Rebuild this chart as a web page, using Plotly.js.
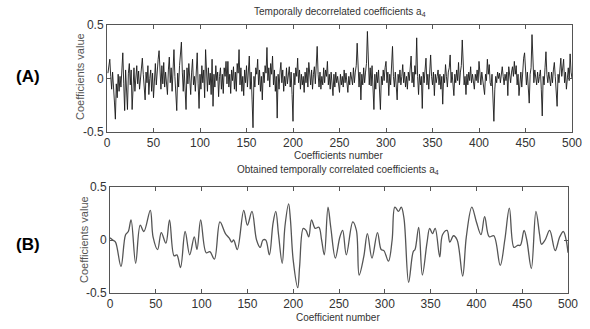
<!DOCTYPE html>
<html>
<head>
<meta charset="utf-8">
<script src="https://cdn.plot.ly/plotly-3.0.1.min.js"></script>
<style>
html,body{margin:0;padding:0;background:#fff;}
#chart{width:590px;height:329px;}
</style>
</head>
<body>
<div id="chart"></div>
<script>
// (A) Temporally decorrelated coefficients a4 (coefficient 1..500)
const decorrelated = [
 0.05, 0.12, 0.18, 0.02,-0.10, 0.06,-0.15,-0.22,-0.38,-0.05,-0.18, 0.04,-0.12, 0.02,-0.08, 0.10, 0.24,-0.05,-0.30, 0.08,-0.10,-0.29, 0.05, 0.14,-0.06,
 0.08,-0.29,-0.02, 0.10,-0.12, 0.03, 0.12,-0.05, 0.07,-0.10, 0.02, 0.10, 0.19, 0.04,-0.08,-0.20, 0.06,-0.04, 0.12,-0.15, 0.00, 0.08,-0.12, 0.05,-0.18,
 0.02, 0.14,-0.06, 0.10, 0.18, 0.26, 0.05,-0.10, 0.12,-0.05, 0.15,-0.08, 0.06,-0.02,-0.15, 0.08, 0.20,-0.04, 0.10,-0.12, 0.04, 0.27, 0.02,-0.10,-0.30,
 0.05,-0.08, 0.12, 0.20, 0.34, 0.06,-0.12, 0.08,-0.20,-0.29, 0.10,-0.05, 0.14,-0.02,-0.15, 0.06, 0.18,-0.06, 0.02,-0.12, 0.10, 0.24,-0.05,-0.28, 0.04,
-0.10, 0.12,-0.04, 0.08,-0.18, 0.27, 0.02,-0.12, 0.10,-0.06, 0.05,-0.15, 0.18,-0.26, 0.04,-0.08, 0.12,-0.02, 0.06,-0.17, 0.02, 0.10,-0.10, 0.04,-0.14,
 0.10, 0.02, 0.16,-0.05, 0.16,-0.08, 0.04,-0.14, 0.08,-0.02, 0.11,-0.10, 0.06,-0.12, 0.14, 0.05, 0.27,-0.06, 0.10,-0.12, 0.02,-0.16, 0.08,-0.04, 0.12,
-0.08, 0.04, 0.21,-0.10, 0.06,-0.20,-0.46, 0.02,-0.08, 0.10, 0.04, 0.18,-0.06, 0.08,-0.12, 0.02,-0.20, 0.06,-0.04, 0.12, 0.05, 0.29,-0.02, 0.10,-0.08,
 0.14, 0.04, 0.21,-0.06, 0.08,-0.12, 0.02,-0.37, 0.04,-0.10, 0.06, 0.15,-0.04, 0.08,-0.12, 0.02,-0.07, 0.10,-0.05, 0.04, 0.11,-0.08, 0.06,-0.15,-0.40,
 0.05,-0.06, 0.10, 0.02, 0.19,-0.04, 0.08,-0.10, 0.04,-0.06, 0.02,-0.13, 0.06,-0.04, 0.10,-0.08, 0.15, 0.02,-0.06, 0.08,-0.10, 0.04, 0.11,-0.05, 0.08,
 0.30, 0.04,-0.08, 0.06,-0.10, 0.02,-0.06, 0.10,-0.04, 0.08, 0.02, 0.16,-0.06, 0.04,-0.10, 0.06,-0.02,-0.16, 0.04,-0.08, 0.06,-0.04, 0.02,-0.10,-0.13,
 0.04,-0.06, 0.02,-0.08, 0.08,-0.04, 0.05,-0.10,-0.13, 0.02,-0.06, 0.06,-0.02,-0.06, 0.10,-0.04, 0.06, 0.12, 0.33, 0.02,-0.08, 0.06,-0.20, 0.04,-0.06,
 0.10,-0.04, 0.06, 0.14, 0.44, 0.05,-0.06, 0.10,-0.07, 0.12,-0.10,-0.29, 0.04,-0.10, 0.06,-0.04, 0.08,-0.12,-0.29, 0.02,-0.06, 0.08,-0.02, 0.10, 0.16,
-0.04, 0.06,-0.16, 0.04,-0.06, 0.12, 0.30, 0.02,-0.08, 0.06,-0.10,-0.20, 0.04,-0.04, 0.08,-0.06, 0.02, 0.13,-0.04, 0.06,-0.08, 0.02,-0.10, 0.06,-0.02,
 0.10, 0.21,-0.04, 0.06,-0.08, 0.12, 0.04, 0.38, 0.02,-0.15, 0.04,-0.06, 0.02,-0.28, 0.06,-0.04, 0.08, 0.19,-0.06, 0.04,-0.10, 0.08, 0.22, 0.02,-0.06,
 0.06,-0.16, 0.04,-0.04, 0.02, 0.08,-0.06, 0.04,-0.10, 0.02,-0.24, 0.04,-0.04, 0.13, 0.02,-0.08, 0.06, 0.10, 0.22,-0.04, 0.06,-0.08,-0.16, 0.04,-0.04,
 0.08,-0.02, 0.15,-0.06, 0.06, 0.12, 0.36, 0.04,-0.06, 0.02,-0.15, 0.04,-0.06, 0.06,-0.02, 0.11,-0.04, 0.04,-0.06,-0.10, 0.04,-0.02, 0.08,-0.04, 0.16,
 0.02,-0.06, 0.06,-0.04,-0.08,-0.15, 0.04,-0.02, 0.18, 0.04, 0.13,-0.04,-0.07, 0.04,-0.12,-0.40,-0.10, 0.02,-0.04, 0.06, 0.00, 0.05,-0.04, 0.06, 0.11,
 0.02,-0.06, 0.04,-0.02, 0.06,-0.16, 0.11, 0.02,-0.04, 0.06, 0.11, 0.02, 0.16, 0.04, 0.12,-0.06, 0.04,-0.16,-0.02, 0.06,-0.08, 0.10, 0.19, 0.24, 0.02,
-0.06, 0.06,-0.10,-0.23, 0.04, 0.10, 0.41, 0.06,-0.04, 0.08, 0.00,-0.06, 0.06,-0.04, 0.02, 0.08,-0.10,-0.35, 0.02,-0.06, 0.10, 0.25, 0.04,-0.04, 0.06,
-0.02,-0.07, 0.06,-0.04, 0.08, 0.15, 0.02,-0.08,-0.26, 0.04,-0.04, 0.08, 0.19, 0.02, 0.10, 0.18,-0.04, 0.06,-0.10, 0.04, 0.10,-0.02, 0.23, 0.06, 0.00
];

// (B) Obtained temporally correlated coefficients a4: turning points
const correlatedX = [0,3,6,12,17,20,23,28,33,37,44,47,52,56,61,65,70,73,77,82,87,92,95,99,105,109,114,120,126,130,133,135,139,146,150,155,160,164,167,170,174,178,181,184,188,191,195,197,200,205,207,211,214,217,220,224,228,231,234,238,241,246,251,254,258,265,269,272,277,281,286,292,296,299,304,308,311,315,318,321,326,331,333,337,341,346,349,352,355,360,363,368,371,375,379,385,389,395,400,405,409,414,419,426,431,436,441,445,448,452,455,460,465,469,471,475,480,486,491,495,498,500];
const correlatedY = [0.02,0.00,-0.02,-0.25,0.05,0.08,0.19,-0.22,0.14,0.08,0.28,0.03,-0.09,0.07,-0.03,0.19,-0.15,-0.14,-0.26,0.08,-0.14,0.03,-0.09,0.19,-0.12,-0.11,-0.18,0.17,0.06,0.02,-0.02,0.00,-0.09,0.28,0.14,0.27,0.00,-0.07,0.00,0.00,-0.14,0.16,0.27,0.05,-0.22,0.13,0.34,0.19,-0.19,-0.45,-0.25,0.11,0.09,0.03,0.19,0.11,0.12,0.00,-0.14,0.31,0.12,-0.17,0.03,0.09,-0.14,0.17,0.09,-0.33,-0.16,0.06,-0.17,0.07,-0.09,-0.10,-0.20,0.00,0.31,0.27,0.31,0.20,-0.40,-0.11,-0.09,0.12,-0.33,-0.03,0.11,0.06,0.11,-0.16,0.05,0.09,-0.02,0.04,0.00,-0.34,0.03,0.31,0.17,0.05,0.22,0.03,0.04,-0.24,0.00,0.30,-0.07,-0.05,-0.05,0.09,0.00,-0.27,0.27,0.05,-0.04,0.00,0.09,-0.10,0.03,0.08,0.00,-0.12];

const xTicks = [0,50,100,150,200,250,300,350,400,450,500];
const yTicks = [-0.5,0,0.5];
const yTickText = ['-0.5','0','0.5'];

const W = 590, H = 329;
const px = v => v / W;
const py = v => 1 - v / H;

const narrow = 'Liberation Sans Narrow, Arial Narrow, Liberation Sans, Arial, sans-serif';
const frame = '#555';

const decorrelatedX = decorrelated.map((_, i) => i + 1);

const traces = [
  {x: decorrelatedX, y: decorrelated, type: 'scatter', mode: 'lines',
   line: {color: '#1a1a1a', width: 0.9}, xaxis: 'x', yaxis: 'y', hoverinfo: 'skip'},
  {x: correlatedX, y: correlatedY, type: 'scatter', mode: 'lines',
   line: {color: '#555', width: 1.3, shape: 'spline', smoothing: 1.0}, xaxis: 'x2', yaxis: 'y2', hoverinfo: 'skip'}
];

function xAxis(domain, anchor) {
  return {domain: domain, anchor: anchor, range: [0, 500], tickmode: 'array', tickvals: xTicks,
    ticks: 'inside', ticklen: 4, tickcolor: frame, showline: true, linecolor: frame, linewidth: 1,
    mirror: 'ticks', showgrid: false, zeroline: false, tickfont: {family: narrow, size: 12, color: '#333'}};
}
function yAxis(domain, anchor) {
  return {domain: domain, anchor: anchor, range: [-0.5, 0.5], tickmode: 'array', tickvals: yTicks, ticktext: yTickText,
    ticks: 'inside', ticklen: 4, tickcolor: frame, showline: true, linecolor: frame, linewidth: 1,
    mirror: 'ticks', showgrid: false, zeroline: false, tickfont: {family: narrow, size: 12, color: '#333'}};
}

const ann = (text, x, y, opts) => Object.assign({text: text, x: px(x), y: py(y), xref: 'paper', yref: 'paper',
  showarrow: false, xanchor: 'center', yanchor: 'middle', font: {family: narrow, size: 10, color: '#333'}}, opts || {});

const layout = {
  width: W, height: H, margin: {l: 0, r: 0, t: 0, b: 0},
  paper_bgcolor: '#fff', plot_bgcolor: '#fff', showlegend: false,
  xaxis: xAxis([px(107), px(572)], 'y'),
  yaxis: yAxis([py(132), py(25)], 'x'),
  xaxis2: xAxis([px(110), px(568)], 'y2'),
  yaxis2: yAxis([py(293), py(187)], 'x2'),
  annotations: [
    ann('Temporally decorrelated coefficients a<sub>4</sub>', 340, 12),
    ann('Obtained temporally correlated coefficients a<sub>4</sub>', 338, 170),
    ann('Coefficients number', 338, 155),
    ann('Coefficient number', 338, 317),
    ann('Coefficients value', 80, 77, {textangle: -90, font: {family: narrow, size: 11, color: '#555'}}),
    ann('Coefficients value', 84, 240, {textangle: -90, font: {family: narrow, size: 11, color: '#555'}}),
    ann('<b>(A)</b>', 28, 76, {font: {family: 'Liberation Sans, Arial, sans-serif', size: 17, color: '#000'}}),
    ann('<b>(B)</b>', 28, 244, {font: {family: 'Liberation Sans, Arial, sans-serif', size: 17, color: '#000'}})
  ]
};

Plotly.newPlot('chart', traces, layout, {staticPlot: true, displayModeBar: false});
</script>
</body>
</html>
